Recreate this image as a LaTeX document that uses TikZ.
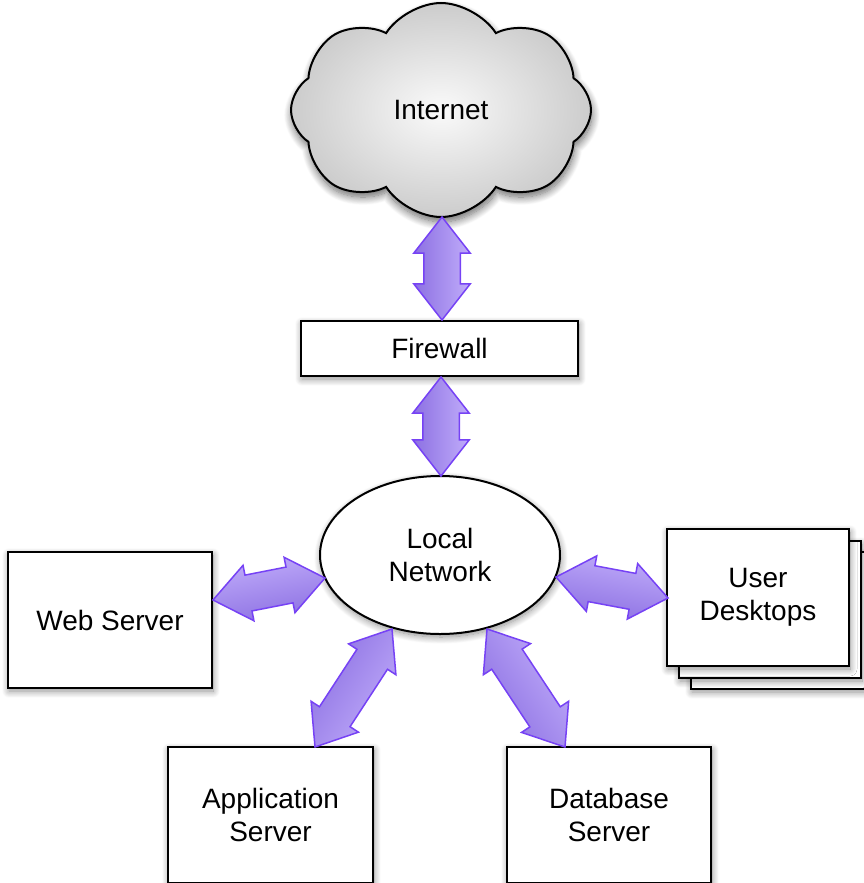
\documentclass[tikz,border=0pt]{standalone}
\usepackage{fontspec}
\setmainfont{Liberation Sans}
\usetikzlibrary{shapes.geometric,shapes.symbols,shapes.arrows,calc,shadows.blur}

\definecolor{arrowline}{RGB}{118,66,245}
\definecolor{arrowdark}{RGB}{140,112,226}
\definecolor{arrowlight}{RGB}{192,172,250}

\tikzset{
  every node/.style={font=\fontsize{28}{33}\selectfont, align=center},
  softshadow/.style={blur shadow={shadow xshift=1pt, shadow yshift=-3pt, shadow blur radius=7pt, shadow blur steps=12, shadow opacity=45}},
  box/.style={draw=black, line width=2pt, fill=white, inner sep=0pt, softshadow},
  dbl/.style={double arrow, draw=arrowline, line width=1.5pt, line join=miter, left color=arrowdark, right color=arrowlight,
    inner xsep=0pt, inner ysep=17.5pt, minimum width=0pt, double arrow head extend=10pt, double arrow tip angle=76}
}

\newcommand\linkarrow[2]{%
  \path let \p1=(#1), \p2=(#2), \n1={atan2(\y2-\y1,\x2-\x1)}, \n2={veclen(\x2-\x1,\y2-\y1)} in
    node[dbl, rotate=\n1, shading angle=\n1+180, minimum height=\n2] at ($(\p1)!0.5!(\p2)$) {};}

\begin{document}
\begin{tikzpicture}[x=1pt,y=-1pt]
\useasboundingbox (0,0) rectangle (864,883);
\clip (0,0) rectangle (864,883);

% cloud
\node[cloud, cloud puffs=8, cloud puff arc=115, cloud ignores aspect, minimum width=300pt, minimum height=214pt,
      draw=black, line width=2pt, inner color=black!2, outer color=black!20,
      blur shadow={shadow xshift=1pt, shadow yshift=-5pt, shadow blur radius=8pt, shadow blur steps=12, shadow opacity=60}] (inet) at (441,110) {Internet};

% firewall
\node[box, minimum width=277pt, minimum height=55pt] (fw) at (439.5,348.5) {Firewall};

% local network
\node[ellipse, draw=black, line width=2pt, fill=white, minimum width=240pt, minimum height=158pt, inner sep=0pt, softshadow] (ln) at (440,555) {Local\\Network};

% web server
\node[box, minimum width=204pt, minimum height=136pt] (ws) at (110,620) {Web Server};

% user desktops (stack)
\node[box, minimum width=182pt, minimum height=137pt] (ud3) at (782,620.5) {};
\node[box, minimum width=182pt, minimum height=137pt] (ud2) at (770,609.5) {};
\node[box, minimum width=182pt, minimum height=137pt] (ud) at (758,597.5) {User\\Desktops};

% application server
\node[box, minimum width=205pt, minimum height=136pt] (as) at (270.5,815) {Application\\Server};

% database server
\node[box, minimum width=204pt, minimum height=136pt] (db) at (609,815) {Database\\Server};

% arrow end points
\coordinate (a1s) at (442,217);  \coordinate (a1e) at (442,320);
\coordinate (a2s) at (441,377);  \coordinate (a2e) at (441,476);
\coordinate (a3s) at (213,600);  \coordinate (a3e) at (325,578);
\coordinate (a4s) at (556,577);  \coordinate (a4e) at (668,598);
\coordinate (a5s) at (392,629);  \coordinate (a5e) at (315,747);
\coordinate (a6s) at (487,629);  \coordinate (a6e) at (565,747);

\linkarrow{a1s}{a1e}
\linkarrow{a2s}{a2e}
\linkarrow{a3s}{a3e}
\linkarrow{a4s}{a4e}
\linkarrow{a5s}{a5e}
\linkarrow{a6s}{a6e}
\end{tikzpicture}
\end{document}
